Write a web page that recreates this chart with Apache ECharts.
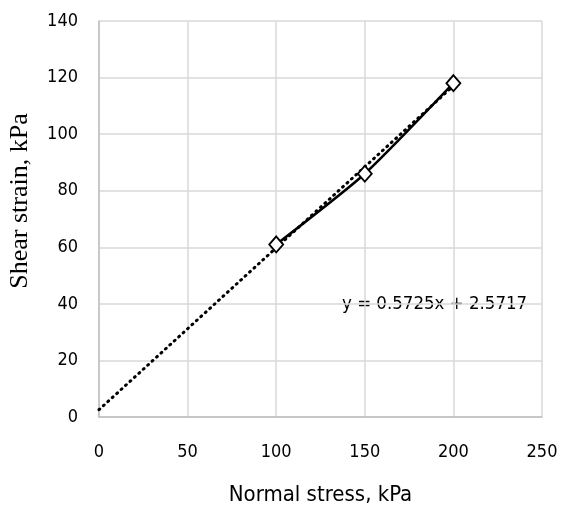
<!DOCTYPE html>
<html><head><meta charset="utf-8">
<script src="https://cdn.jsdelivr.net/npm/echarts@6/dist/echarts.min.js"></script>
<style>html,body{margin:0;padding:0;background:#fff}#c{width:564px;height:511px}</style>
</head><body><div id="c"></div>
<script>
const stressX = [100, 150, 200];
const strainY = [61, 86, 118];
const trendX = [0, 200];
const trendY = [2.5717, 117.0717];
const xTicks = [0, 50, 100, 150, 200, 250];
const yTicks = [0, 20, 40, 60, 80, 100, 120, 140];
const equationText = 'y = 0.5725x + 2.5717';
const yTitle = 'Shear strain, kPa';
const xTitle = 'Normal stress, kPa';

const FONT = '"DejaVu Sans Condensed","Liberation Sans Narrow",sans-serif';
const chart = echarts.init(document.getElementById('c'));
const lab = {color:'#000', fontFamily:FONT, fontSize:18};
chart.setOption({
  animation:false,
  grid:{left:99, right:22, top:21, bottom:92},
  xAxis:{type:'value', min:0, max:250, interval:50,
    name:xTitle, nameLocation:'middle', nameGap:78,
    nameTextStyle:{color:'#000', fontFamily:FONT, fontSize:22, verticalAlign:'middle'},
    axisLine:{show:true, lineStyle:{color:'#bfbfbf', width:1.5}}, axisTick:{show:false},
    axisLabel:Object.assign({margin:26}, lab),
    splitLine:{show:true, lineStyle:{color:'#d9d9d9', width:1.5}}},
  yAxis:{type:'value', min:0, max:140, interval:20,
    axisLine:{show:true, lineStyle:{color:'#bfbfbf', width:1.5}}, axisTick:{show:false},
    axisLabel:Object.assign({margin:21}, lab),
    splitLine:{show:true, lineStyle:{color:'#d9d9d9', width:1.5}}},
  series:[
    {type:'line', data:trendX.map((x,i)=>[x,trendY[i]]), symbol:'none',
     lineStyle:{color:'#000', width:3, type:[1,5], cap:'round'}, z:2},
    {type:'line', data:stressX.map((x,i)=>[x,strainY[i]]), smooth:0.2,
     symbol:'diamond', symbolSize:[14,16],
     itemStyle:{color:'#fff', borderColor:'#000', borderWidth:1.8},
     lineStyle:{color:'#000', width:2.5}, z:3}
  ],
  graphic:[
    {type:'text', left:342, top:295,
     style:{text:equationText, fill:'#000', font:'18.5px ' + FONT}},
    {type:'text', x:20, y:201, rotation:Math.PI/2,
     style:{text:yTitle, fill:'#000', font:'26px "Liberation Serif",serif', align:'center', verticalAlign:'middle'}}
  ]
});
</script></body></html>
